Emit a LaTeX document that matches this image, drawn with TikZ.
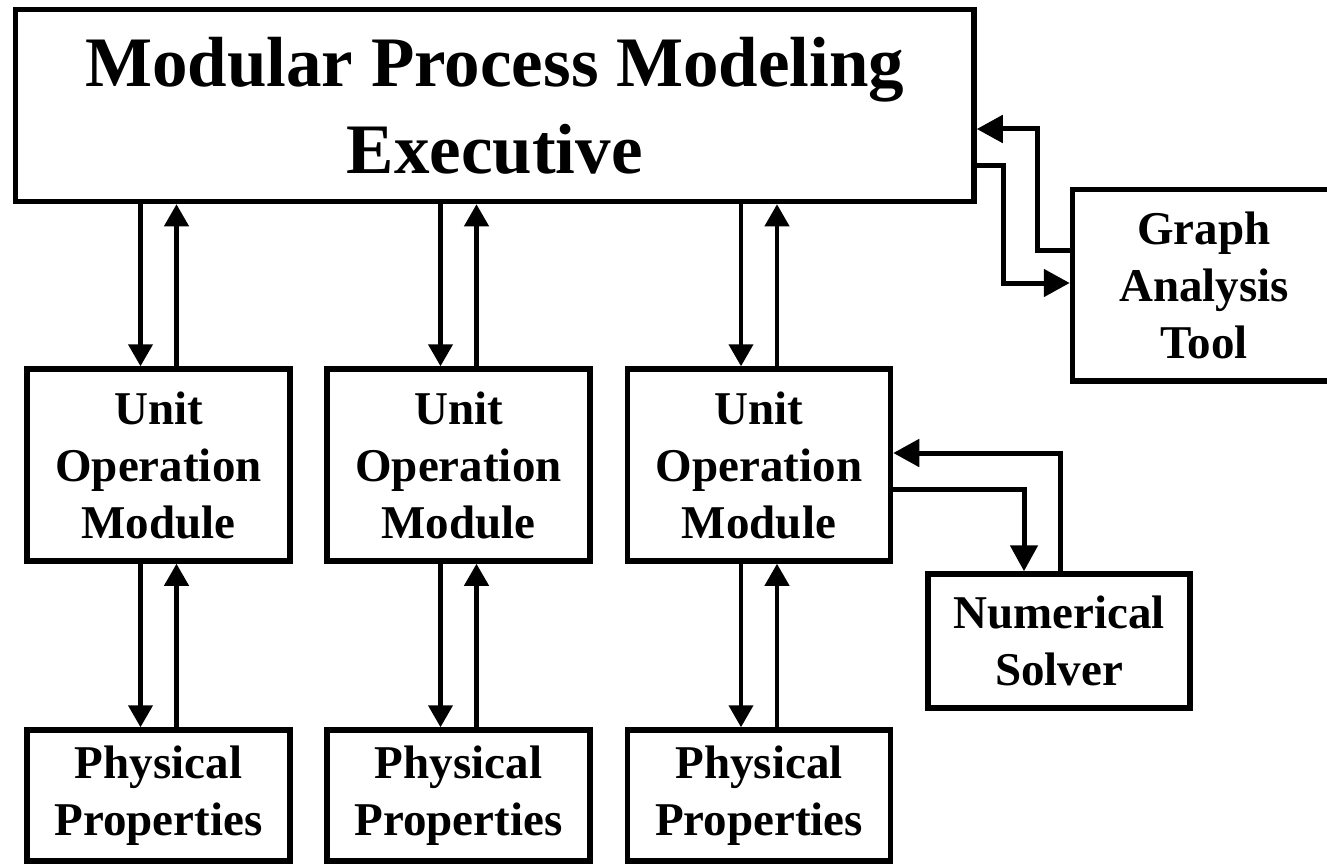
\documentclass[tikz,border=0pt]{standalone}
\usepackage{fontspec}
\setmainfont{Liberation Serif}
\usetikzlibrary{arrows.meta}

\tikzset{
  box/.style={draw, line width=5.5pt, inner sep=0pt, align=center,
              font=\fontsize{47}{57}\selectfont\bfseries},
  vlink/.style={line width=4.2pt, -{Triangle[length=22pt 0, width=24pt 0]}},
  elink/.style={line width=5pt, -{Triangle[length=26pt 0, width=27pt 0]}},
}

\begin{document}
\begin{tikzpicture}[x=1pt, y=-1pt]
  \useasboundingbox (0,0) rectangle (1327,864);
  \fill[white] (0,0) rectangle (1327,864);
  \clip (0,0) rectangle (1327,864);

  % executive
  \node[box, minimum width=958.5pt, minimum height=192pt,
        font=\fontsize{71}{87}\selectfont\bfseries]
    (exec) at (494.75,105.5) {Modular Process Modeling\\Executive};

  % unit operation modules
  \node[box, minimum width=263pt, minimum height=192pt] (u1) at (158.5,465) {Unit\\Operation\\Module};
  \node[box, minimum width=263pt, minimum height=192pt] (u2) at (458.5,465) {Unit\\Operation\\Module};
  \node[box, minimum width=263pt, minimum height=192pt] (u3) at (759,465) {Unit\\Operation\\Module};

  % physical properties
  \node[box, minimum width=263pt, minimum height=131pt] (p1) at (158.5,795.5) {Physical\\Properties};
  \node[box, minimum width=263pt, minimum height=131pt] (p2) at (458.5,795.5) {Physical\\Properties};
  \node[box, minimum width=263pt, minimum height=131pt] (p3) at (759,795.5) {Physical\\Properties};

  % side tools
  \node[box, minimum width=263pt, minimum height=191.5pt] (graph) at (1204,285.25) {Graph\\Analysis\\Tool};
  \node[box, minimum width=262pt, minimum height=134pt] (solver) at (1059,641) {Numerical\\Solver};

  % executive <-> unit modules, unit modules <-> physical properties
  \foreach \u/\p in {u1/p1, u2/p2, u3/p3} {
    \draw[vlink] ([xshift=-18pt]\u.north |- exec.south) -- ([xshift=-18pt]\u.north);
    \draw[vlink] ([xshift=18pt]\u.north) -- ([xshift=18pt]\u.north |- exec.south);
    \draw[vlink] ([xshift=-18pt]\u.south) -- ([xshift=-18pt]\p.north);
    \draw[vlink] ([xshift=18pt]\p.north) -- ([xshift=18pt]\u.south);
  }

  % executive <-> graph analysis tool
  \draw[elink] (exec.east |- 0,165) -| (1003,283) -- (graph.west |- 0,283);
  \draw[elink] (graph.west |- 0,250) -| (1037,129) -- (exec.east |- 0,129);

  % unit module <-> numerical solver
  \draw[elink] (u3.east |- 0,489) -| ([xshift=-35pt]solver.north);
  \draw[elink] ([xshift=1pt]solver.north) |- (u3.east |- 0,453);
\end{tikzpicture}
\end{document}
